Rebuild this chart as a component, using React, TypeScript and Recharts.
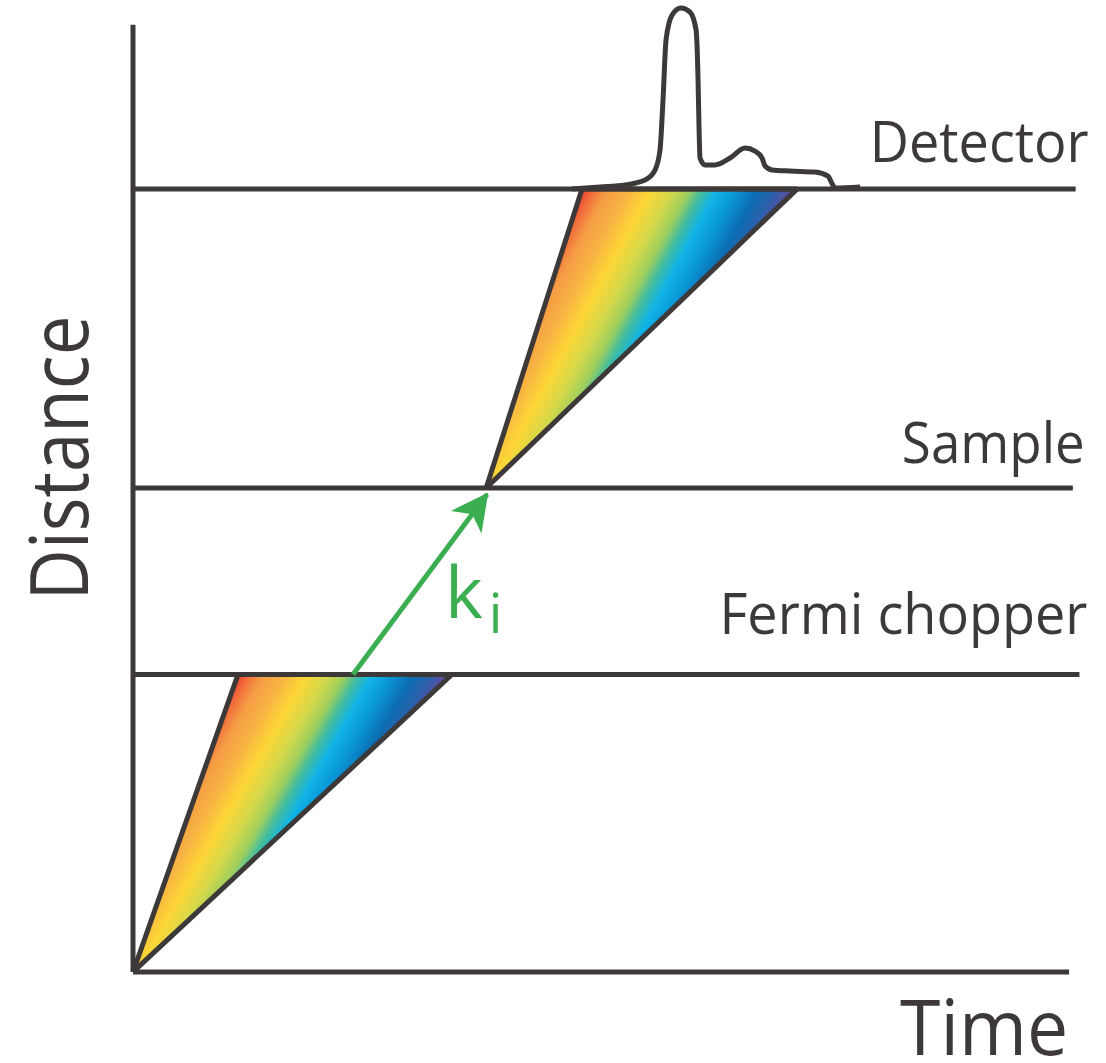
import { ComposedChart, XAxis, YAxis, Area, Line, ReferenceLine, ReferenceDot } from "recharts";

const INK = "#3d3939";
const GREEN = "#3cae52";
const FONT = "'Open Sans', 'Noto Sans', sans-serif";

// flight path stations (distance, arbitrary units) and where their lines stop (time units)
const stationNames = ["Fermi chopper", "Sample", "Detector"];
const stationDistance = [3.15, 5.125, 8.29];
const stationLineEnd = [10.05, 9.98, 10.01];

// axes extents
const timeAxisEnd = 9.94;
const distanceAxisEnd = 10.03;

// white pulse leaves the source at t=0; fastest / slowest arrival at the chopper
const sourceStart = { t: 0, d: 0 };
const chopperArrivals = [1.115, 3.387];

// scattered fan leaves the sample; fastest / slowest arrival at the detector
const sampleStart = { t: 3.75, d: 5.125 };
const detectorArrivals = [4.768, 7.051];

// incident wave vector arrow
const kiTime = [2.336, 3.76];
const kiDist = [3.15, 5.06];

// detector time-of-flight spectrum
const peakTime = [4.662, 4.959, 5.225, 5.437, 5.543, 5.596, 5.628, 5.66, 5.724, 5.819, 5.915, 5.979, 6.0, 6.011, 6.021, 6.075, 6.181, 6.34, 6.499, 6.605, 6.68, 6.711, 6.786, 6.977, 7.242, 7.38, 7.425, 7.456, 7.72];
const peakHeight = [8.291, 8.312, 8.334, 8.386, 8.492, 8.704, 9.233, 9.869, 10.133, 10.208, 10.165, 9.975, 9.453, 8.916, 8.619, 8.545, 8.545, 8.619, 8.725, 8.693, 8.619, 8.535, 8.492, 8.481, 8.471, 8.428, 8.344, 8.302, 8.312];

// build a filled fan (triangle) as a range area: fast edge on top, slow edge underneath
function fan(start: { t: number; d: number }, arrivals: number[], dEnd: number) {
  const [fast, slow] = arrivals;
  const slowAtFast = start.d + ((dEnd - start.d) * (fast - start.t)) / (slow - start.t);
  return [
    { t: start.t, range: [start.d, start.d] },
    { t: fast, range: [slowAtFast, dEnd] },
    { t: slow, range: [dEnd, dEnd] },
  ];
}

const fan1 = fan(sourceStart, chopperArrivals, stationDistance[0]);
const fan2 = fan(sampleStart, detectorArrivals, stationDistance[2]);
const kiData = kiTime.map((t, i) => ({ t, d: kiDist[i] }));
const peakData = peakTime.map((t, i) => ({ t, d: peakHeight[i] }));

const rainbow = [
  [0, "#e63a2f"],
  [0.05, "#f16a3b"],
  [0.12, "#f59c45"],
  [0.22, "#f8b443"],
  [0.32, "#fdd636"],
  [0.42, "#d4d84a"],
  [0.5, "#9fcf5d"],
  [0.56, "#45bd9c"],
  [0.63, "#10b3e7"],
  [0.72, "#0a96d6"],
  [0.82, "#0c6db2"],
  [0.9, "#2c5fab"],
  [1, "#6e4a9e"],
];

function StationLabel(props: any) {
  const { viewBox, value, dx, dy, length } = props;
  if (!viewBox) return null;
  return (
    <text
      x={viewBox.x + viewBox.width + dx}
      y={viewBox.y + dy}
      textAnchor="end"
      fontFamily={FONT}
      fontSize={56}
      fill={INK}
      textLength={length}
      lengthAdjust="spacingAndGlyphs"
    >
      {value}
    </text>
  );
}

function TimeLabel(props: any) {
  const { viewBox } = props;
  if (!viewBox) return null;
  return (
    <text x={viewBox.x + viewBox.width - 1} y={viewBox.y + 83} textAnchor="end" fontFamily={FONT} fontSize={76} fill={INK} textLength={168} lengthAdjust="spacingAndGlyphs">
      Time
    </text>
  );
}

function DistanceLabel(props: any) {
  const { viewBox } = props;
  if (!viewBox) return null;
  const x = viewBox.x - 45;
  const y = 458;
  return (
    <text x={x} y={y} transform={`rotate(-90, ${x}, ${y})`} textAnchor="middle" fontFamily={FONT} fontSize={80} fill={INK} textLength={285} lengthAdjust="spacingAndGlyphs">
      Distance
    </text>
  );
}

function KiLabel(props: any) {
  const { viewBox } = props;
  if (!viewBox) return null;
  return (
    <text x={viewBox.x} y={viewBox.y} fontFamily={FONT} fill={GREEN}>
      <tspan fontSize={72}>k</tspan>
      <tspan fontSize={54} dx={6} dy={15}>i</tspan>
    </text>
  );
}

const labelTweaks = [
  { dx: 8, dy: -41, length: 368 },
  { dx: 12, dy: -25, length: 183 },
  { dx: 13, dy: -27, length: 219 },
];

export default function App() {
  return (
    <div style={{ position: "absolute", left: 0, top: 0, background: "#fff" }}>
      <ComposedChart width={1106} height={1063} margin={{ top: 4, right: 3, bottom: 91, left: 133 }}>
        <defs>
          <linearGradient id="fan1Fill" x1={0.329} y1={0} x2={0.853} y2={0.278}>
            {rainbow.map(([o, c]) => (
              <stop key={String(o)} offset={o as number} stopColor={c as string} />
            ))}
          </linearGradient>
          <linearGradient id="fan2Fill" x1={0.309} y1={0} x2={0.855} y2={0.282}>
            {rainbow.map(([o, c]) => (
              <stop key={String(o)} offset={o as number} stopColor={c as string} />
            ))}
          </linearGradient>
          <marker id="kiHead" markerUnits="userSpaceOnUse" viewBox="-40 -22 44 44" markerWidth={44} markerHeight={44} refX={0} refY={0} orient="auto">
            <path d="M2,0 L-35,-19 L-25,0 L-35,19 Z" fill={GREEN} />
          </marker>
        </defs>
        <XAxis dataKey="t" type="number" domain={[0, 10.3]} hide allowDataOverflow />
        <YAxis type="number" domain={[0, 10.25]} hide allowDataOverflow />

        <ReferenceLine
          segment={[{ x: 0, y: 0 }, { x: 0, y: distanceAxisEnd }]}
          stroke={INK}
          strokeWidth={5}
          label={<DistanceLabel />}
        />
        <ReferenceLine
          segment={[{ x: 0, y: 0 }, { x: timeAxisEnd, y: 0 }]}
          stroke={INK}
          strokeWidth={5}
          label={<TimeLabel />}
        />
        {stationNames.map((name, i) => (
          <ReferenceLine
            key={name}
            segment={[{ x: 0, y: stationDistance[i] }, { x: stationLineEnd[i], y: stationDistance[i] }]}
            stroke={INK}
            strokeWidth={5}
            label={<StationLabel value={name} {...labelTweaks[i]} />}
          />
        ))}

        <Area data={fan1} dataKey="range" type="linear" stroke={INK} strokeWidth={5} fill="url(#fan1Fill)" fillOpacity={1} dot={false} activeDot={false} isAnimationActive={false} />
        <Area data={fan2} dataKey="range" type="linear" stroke={INK} strokeWidth={5} fill="url(#fan2Fill)" fillOpacity={1} dot={false} activeDot={false} isAnimationActive={false} />

        <Line data={peakData} dataKey="d" type="monotone" stroke={INK} strokeWidth={5} dot={false} activeDot={false} isAnimationActive={false} />
        <Line data={kiData} dataKey="d" type="linear" stroke={GREEN} strokeWidth={5} dot={false} activeDot={false} markerEnd="url(#kiHead)" isAnimationActive={false} />

        <ReferenceDot x={3.313} y={3.748} r={0} fill="none" stroke="none" label={<KiLabel />} />
      </ComposedChart>
    </div>
  );
}
